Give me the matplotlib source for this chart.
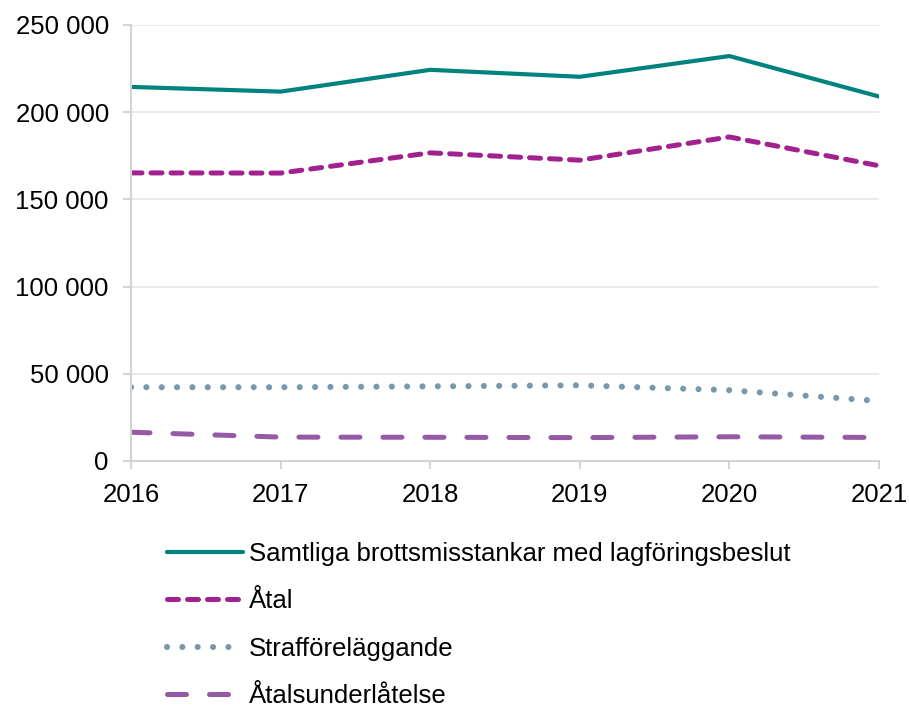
import matplotlib
matplotlib.use("Agg")
import matplotlib.pyplot as plt
from matplotlib.ticker import FuncFormatter

plt.rcParams['font.family'] = ['Liberation Sans', 'DejaVu Sans']

years = [2016, 2017, 2018, 2019, 2020, 2021]
samtliga = [214500, 211800, 224300, 220300, 232200, 209000]
atal = [165200, 165100, 176700, 172500, 185800, 169300]
straff = [42300, 42300, 42800, 43400, 40600, 34400]
atalsunder = [16500, 13700, 13600, 13400, 13900, 13500]

labels = ["Samtliga brottsmisstankar med lagföringsbeslut", "Åtal",
          "Strafföreläggande", "Åtalsunderlåtelse"]
yticks = [0, 50000, 100000, 150000, 200000, 250000]

FS = 18.5

fig = plt.figure(figsize=(9.09, 7.06), dpi=100)
ax = fig.add_axes([131/909, 1-461/706, (879-131)/909, (461-25)/706])

ax.plot(years, samtliga, color='#00827F', lw=3.0, solid_capstyle='round', label=labels[0])
ax.plot(years, atal, color='#A1228E', lw=3.6, linestyle=(0, (2.2, 1.8)),
        dash_capstyle='round', label=labels[1])
ax.plot(years, straff, color='#7999AA', lw=4.4, linestyle=(0, (0.01, 2.5)),
        dash_capstyle='round', label=labels[2])
ax.plot(years, atalsunder, color='#9559A6', lw=3.6, linestyle=(0, (3.8, 4.6)),
        dash_capstyle='round', label=labels[3])

ax.set_xlim(2016, 2021)
ax.set_ylim(0, 250000)
ax.set_xticks(years)
ax.set_yticks(yticks)
ax.yaxis.set_major_formatter(FuncFormatter(lambda v, p: f"{int(v):,}".replace(",", " ")))
ax.grid(axis='y', color='#e6e6e6', lw=1.2)
ax.set_axisbelow(True)
for s in ['top', 'right']:
    ax.spines[s].set_visible(False)
for s in ['left', 'bottom']:
    ax.spines[s].set_color('#d4d4d4')
    ax.spines[s].set_linewidth(1.5)
ax.tick_params(axis='both', colors='#d4d4d4', labelcolor='black', labelsize=FS,
               length=6, width=1.5)
ax.tick_params(axis='y', pad=10)
ax.tick_params(axis='x', pad=10)

leg = fig.legend(loc='upper left', bbox_to_anchor=(157/909, 1-532/706), frameon=False,
                 fontsize=FS, handlelength=2.95, handletextpad=0.22, labelspacing=0.9,
                 borderaxespad=0)

fig.savefig("out.png", dpi=100)
